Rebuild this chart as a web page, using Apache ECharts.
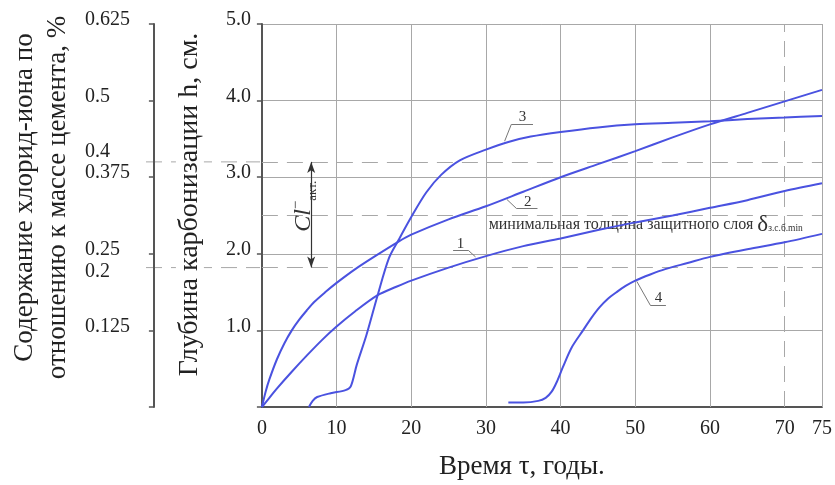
<!DOCTYPE html>
<html>
<head>
<meta charset="utf-8">
<script src="https://cdn.jsdelivr.net/npm/echarts@6/dist/echarts.min.js"></script>
<style>html,body{margin:0;padding:0;background:#fff}#c{width:835px;height:485px}</style>
</head>
<body>
<div id="c"></div>
<script>
// ---- data ----
var xTickLabels = [0, 10, 20, 30, 40, 50, 60, 70, 75];
var xGridSolid = [10, 20, 30, 40, 50, 60, 75];
var xGridDashed = [70];
var hLevelsDashed = [2.5];
var clLevels = [3.2, 1.82];               // Cl- акт. levels on h scale
var chlorideLabels = ['0.125', '0.2', '0.25', '0.375', '0.4', '0.5', '0.625'];
var chloridePos = [1, 1.82, 2, 3, 3.2, 4, 5];

var curve1 = [[0,0],[1,0.12],[2,0.24],[4,0.46],[6,0.67],[8,0.87],[10,1.05],[12.5,1.25],[15.5,1.46],[18,1.57],[20,1.65],[25,1.82],[30,1.97],[35,2.1],[40,2.2],[45,2.31],[50,2.41],[55,2.5],[60,2.6],[65,2.7],[70,2.82],[75,2.92]];
var curve2 = [[0,0],[0.5,0.2],[1,0.36],[2,0.62],[3,0.83],[4,1.0],[5,1.14],[6,1.26],[7,1.37],[8.5,1.5],[10,1.62],[12.5,1.8],[15,1.96],[18.3,2.16],[20,2.25],[25,2.45],[30,2.62],[35,2.81],[40,3.0],[45,3.17],[50,3.34],[55,3.52],[60,3.69],[65,3.84],[70,3.99],[75,4.14]];
var curve3 = [[6.3,0],[6.8,0.08],[7.4,0.13],[9.2,0.18],[11.2,0.22],[11.9,0.27],[12.7,0.55],[14,0.94],[15.5,1.46],[17,1.94],[18.3,2.18],[20,2.48],[22,2.8],[24,3.03],[26.5,3.22],[30,3.36],[33,3.46],[36,3.53],[40,3.59],[45,3.65],[50,3.69],[55,3.71],[60,3.73],[65,3.76],[70,3.78],[75,3.8]];
var curve4 = [[33,0.06],[35,0.06],[37,0.08],[38,0.12],[38.8,0.2],[39.5,0.33],[40.3,0.52],[41.5,0.78],[43,1.0],[44.1,1.16],[45.2,1.3],[46.3,1.41],[47.5,1.5],[48.7,1.58],[50,1.65],[52,1.73],[54,1.8],[57,1.88],[60,1.96],[65,2.06],[70,2.15],[75,2.26]];

// curve number annotations: leader polyline (data coords) + label
var leaders = [
  {name:'1', pts:[[28.6,1.96],[27.7,2.04],[25.6,2.04]], at:[26.6,2.04]},
  {name:'2', pts:[[32.8,2.71],[34.1,2.59],[36.9,2.59]], at:[35.6,2.59]},
  {name:'3', pts:[[32.5,3.47],[33.4,3.69],[36.3,3.69]], at:[34.9,3.69]},
  {name:'4', pts:[[50.2,1.64],[52.0,1.33],[54.1,1.33]], at:[53.1,1.33]}
];
var arrowX = 6.6;

// ---- styles / layout ----
var BLUE = '#4a52e0';
var GRID_C = '#a8a8a8';
var AX_C = '#555';
var SERIF = '"Liberation Serif","DejaVu Serif",serif';
var GRID_LEFT = 260, CHL_OFFSET = 108;

var chart = echarts.init(document.getElementById('c'));

function curveSeries(d){
  return {type:'line', data:d, smooth:0.3, showSymbol:false, symbol:'none',
    lineStyle:{color:BLUE, width:2}, itemStyle:{color:BLUE}, z:5, silent:true};
}

var vLines = xGridSolid.map(function(v){return {xAxis:v, lineStyle:{type:'solid'}};})
  .concat(xGridDashed.map(function(v){return {xAxis:v, lineStyle:{type:[16,9]}};}))
  .concat(hLevelsDashed.concat(clLevels).map(function(v){return {yAxis:v, lineStyle:{type:[16,9]}};}));

var leaderLines = [];
leaders.forEach(function(l){
  for (var i=0;i<l.pts.length-1;i++){
    leaderLines.push([{coord:l.pts[i]},{coord:l.pts[i+1]}]);
  }
});

var notes = leaders.map(function(l){
  return {coord:l.at, name:l.name, label:{show:true, formatter:l.name, position:'top', distance:-1,
    fontSize:15, fontFamily:SERIF, color:'#333'}};
}).concat([
  {coord:[30.3, 2.38], name:'min', label:{show:true, position:'right', distance:0,
    formatter:'{t|минимальная толщина защитного слоя }{d|δ}{s|з.с.б.min}',
    rich:{t:{fontSize:16, fontFamily:SERIF, color:'#333'},
          d:{fontSize:23, fontFamily:SERIF, color:'#333'},
          s:{fontSize:9.5, fontFamily:SERIF, color:'#333', padding:[8,0,0,0]}}}},
  {coord:[5.6, 2.62], name:'cl', label:{show:true, position:'inside', rotate:90,
    formatter:'{c|Cl}{m|−}{a|акт.}',
    rich:{c:{fontSize:24, lineHeight:30, fontStyle:'italic', fontFamily:SERIF, color:'#333', verticalAlign:'middle'},
          m:{fontSize:15, lineHeight:12, fontFamily:SERIF, color:'#333', verticalAlign:'top'},
          a:{fontSize:13, lineHeight:14, fontFamily:SERIF, color:'#333', verticalAlign:'bottom'}}}}
]);

var option = {
  animation:false,
  backgroundColor:'#fff',
  textStyle:{fontFamily:SERIF},
  grid:{left:GRID_LEFT, right:9, top:24, bottom:76, containLabel:false},
  xAxis:{type:'value', min:0, max:75, interval:10,
    axisLine:{show:true, lineStyle:{color:AX_C, width:2}},
    axisTick:{show:false},
    splitLine:{show:false},
    axisLabel:{customValues:xTickLabels, color:'#222', fontSize:20, fontFamily:SERIF, margin:12},
    name:'Время τ, годы.', nameLocation:'middle', nameGap:46,
    nameTextStyle:{fontSize:27, color:'#222', fontFamily:SERIF, padding:[0,40,0,0]}
  },
  yAxis:[
    {type:'value', min:0, max:5, interval:1, position:'left',
      axisLine:{show:true, lineStyle:{color:AX_C, width:2}},
      axisTick:{show:true, inside:false, length:5, lineStyle:{color:AX_C, width:1.5}},
      splitLine:{show:true, lineStyle:{color:GRID_C, width:1}},
      axisLabel:{color:'#222', fontSize:20, fontFamily:SERIF, margin:11,
        formatter:function(v){return v === 0 ? '' : '{n|'+v.toFixed(1)+'}';},
        rich:{n:{fontSize:20, fontFamily:SERIF, color:'#222', padding:[0,0,8,0]}}},
      name:'Глубина карбонизации h, см.', nameLocation:'middle', nameRotate:90, nameGap:58,
      nameTextStyle:{fontSize:28, color:'#222', fontFamily:SERIF, backgroundColor:'#fff', padding:[0,0,0,22]}
    },
    {type:'value', min:0, max:5, interval:1, position:'left', offset:CHL_OFFSET,
      axisLine:{show:true, onZero:false, lineStyle:{color:AX_C, width:2}},
      axisTick:{show:true, inside:false, length:5, lineStyle:{color:AX_C, width:1.5}},
      splitLine:{show:false},
      axisLabel:{customValues:chloridePos, align:'left', margin:69,
        formatter:function(v){
          var i = chloridePos.indexOf(v); var s = chlorideLabels[i];
          if (s==='0.4') return '{u|'+s+'}';
          if (s==='0.2') return '{d|'+s+'}';
          return '{n|'+s+'}';
        },
        rich:{
          n:{fontSize:20, fontFamily:SERIF, color:'#222', padding:[0,0,8,0]},
          u:{fontSize:20, fontFamily:SERIF, color:'#222', padding:[0,0,20,0]},
          d:{fontSize:20, fontFamily:SERIF, color:'#222', padding:[8,0,0,0]}
        }},
      name:'Содержание хлорид-иона по\nотношению к массе цемента, %', nameLocation:'middle', nameRotate:90, nameGap:78,
      nameTextStyle:{fontSize:27, lineHeight:33, color:'#222', fontFamily:SERIF, padding:[0,0,0,36]}
    }
  ],
  series:[
    {type:'line', data:[], silent:true,
      markLine:{silent:true, symbol:['none','none'], animation:false,
        lineStyle:{color:GRID_C, width:1}, label:{show:false}, data:vLines}, z:1},
    curveSeries(curve1), curveSeries(curve2), curveSeries(curve3), curveSeries(curve4),
    {type:'line', data:[], silent:true,
      markLine:{silent:true, symbol:['none','none'], animation:false,
        lineStyle:{color:'#777', width:1, type:'solid'}, label:{show:false}, data:leaderLines}, z:6},
    {type:'line', data:[], silent:true,
      markLine:{silent:true, symbol:['arrow','arrow'], symbolSize:[6,11], animation:false,
        lineStyle:{color:'#333', width:1.2, type:'solid'}, label:{show:false},
        data:[[{coord:[arrowX, clLevels[0]]},{coord:[arrowX, clLevels[1]]}]]}, z:6},
    {type:'line', data:[], silent:true,
      markPoint:{silent:true, symbol:'circle', symbolSize:1, animation:false,
        itemStyle:{color:'rgba(0,0,0,0)'}, data:notes}, z:7}
  ]
};
chart.setOption(option);

// dashed extensions of the Cl- levels to the left of the plot, through the chloride axis
var ext = clLevels.map(function(v){
  var y = chart.convertToPixel({yAxisIndex:0}, v);
  return {type:'line', z:-1, silent:true,
    shape:{x1:GRID_LEFT-CHL_OFFSET-6, y1:y, x2:GRID_LEFT, y2:y},
    style:{stroke:GRID_C, lineWidth:1, lineDash:[16,9]}};
});
chart.setOption({graphic:ext});
</script>
</body>
</html>
